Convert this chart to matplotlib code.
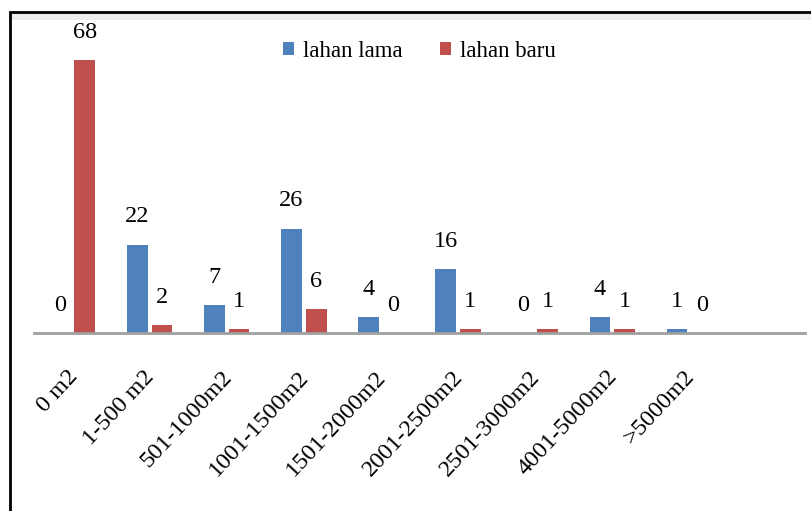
import matplotlib.pyplot as plt
import numpy as np
from matplotlib.patches import Rectangle
from matplotlib.transforms import ScaledTranslation

categories = ["0 m2", "1-500 m2", "501-1000m2", "1001-1500m2", "1501-2000m2",
              "2001-2500m2", "2501-3000m2", "4001-5000m2", ">5000m2"]
lahan_lama = [0, 22, 7, 26, 4, 16, 0, 4, 1]
lahan_baru = [68, 2, 1, 6, 0, 1, 1, 1, 0]

plt.rcParams['font.family'] = ['Liberation Serif', 'DejaVu Serif']

fig = plt.figure(figsize=(8.11, 5.11), dpi=100)
ax = fig.add_axes([34/811, 178/511, 771/811, 313/511])
ax.patch.set_alpha(0)

x = np.arange(len(categories))
w = 0.27
off = 0.16
b1 = ax.bar(x - off, lahan_lama, w, color='#4F81BD', label='lahan lama')
b2 = ax.bar(x + off, lahan_baru, w, color='#C0504D', label='lahan baru')

for bars in (b1, b2):
    for r in bars:
        ax.text(r.get_x() + r.get_width()/2, r.get_height() + 4.3, str(int(r.get_height())),
                ha='center', va='bottom', fontsize=17.5)

ax.set_xlim(-0.5, 9.5)
ax.set_ylim(0, 78)
ax.set_xticks(x)
ax.set_xticklabels(categories, rotation=47, ha='right', rotation_mode='anchor', fontsize=17.5)
ax.tick_params(axis='x', length=0, pad=24)
shift = ScaledTranslation(-6/100, 0, fig.dpi_scale_trans)
for lab in ax.get_xticklabels():
    lab.set_transform(lab.get_transform() + shift)
ax.set_yticks([])
for s in ['top', 'right', 'left']:
    ax.spines[s].set_visible(False)
ax.spines['bottom'].set_color('#A0A0A0')
ax.spines['bottom'].set_linewidth(2)

ax.legend(loc='upper center', bbox_to_anchor=(0.5, 1.0), ncol=2, frameon=False,
          fontsize=16.5, handlelength=0.5, handleheight=0.5, handletextpad=0.4,
          columnspacing=1.6)

# outer frame with light shadow on top
fig.patches.append(Rectangle((10/811, -0.1), 1.0, 1 - 12/511 + 0.1, transform=fig.transFigure,
                             fill=False, edgecolor='black', linewidth=2))
fig.patches.append(Rectangle((12/811, 1 - 20/511), 1.0, 7/511, transform=fig.transFigure,
                             facecolor='#EDEDED', edgecolor='none', zorder=-1))

plt.savefig('out.png', dpi=100)
plt.close()
